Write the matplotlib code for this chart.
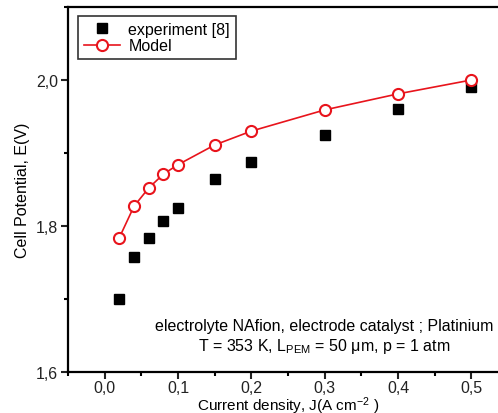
import numpy as np
import matplotlib
matplotlib.use("Agg")
import matplotlib.pyplot as plt
from matplotlib.ticker import MultipleLocator, FuncFormatter

plt.rcParams['font.family'] = ['Liberation Sans', 'DejaVu Sans']
plt.rcParams['mathtext.fontset'] = 'custom'
plt.rcParams['mathtext.rm'] = 'Liberation Sans'
plt.rcParams['mathtext.it'] = 'Liberation Sans:italic'

# data
j_exp = [0.02, 0.04, 0.06, 0.08, 0.10, 0.15, 0.20, 0.30, 0.40, 0.50]
e_exp = [1.700, 1.758, 1.784, 1.807, 1.825, 1.864, 1.888, 1.924, 1.960, 1.990]
j_model = [0.02, 0.04, 0.06, 0.08, 0.10, 0.15, 0.20, 0.30, 0.40, 0.50]
e_model = [1.784, 1.827, 1.852, 1.871, 1.884, 1.911, 1.930, 1.959, 1.981, 2.000]

fig = plt.figure(figsize=(4.98, 4.14), dpi=100)
ax = fig.add_axes([68/498, 1 - 373/414, 440/498, 365/414])

ax.plot(j_exp, e_exp, 's', color='black', markersize=7, label='experiment [8]')
ax.plot(j_model, e_model, '-o', color='#e8141c', lw=1.2, markersize=8,
        markerfacecolor='white', markeredgewidth=1.5, label='Model')

ax.set_xlim(-0.05, 0.55)
ax.set_ylim(1.6, 2.1)
ax.xaxis.set_major_locator(MultipleLocator(0.1))
ax.xaxis.set_minor_locator(MultipleLocator(0.05))
ax.yaxis.set_major_locator(MultipleLocator(0.2))
ax.yaxis.set_minor_locator(MultipleLocator(0.1))
comma = FuncFormatter(lambda v, p: ('%.1f' % v).replace('.', ','))
ax.xaxis.set_major_formatter(comma)
ax.yaxis.set_major_formatter(comma)
ax.tick_params(which='major', direction='out', length=5, width=1.5, labelsize=11.5,
               colors='#222222', pad=2)
ax.tick_params(axis='x', which='major', pad=1)
ax.tick_params(which='minor', direction='out', length=3, width=1.5)
for s in ax.spines.values():
    s.set_linewidth(1.6)

ax.set_xlabel(r'Current density, J(A cm$^{\mathregular{-2}}$ )', fontsize=11, labelpad=-0.5)
ax.set_ylabel('Cell Potential, E(V)', fontsize=11.5, labelpad=4)

ax.text(0.300, 1.6635, 'electrolyte NAfion, electrode catalyst ; Platinium',
        ha='center', va='center', fontsize=11.5)
ax.text(0.300, 1.636, r'T = 353 K, L$_{\mathregular{PEM}}$ = 50 $\mathregular{\mu}$m, p = 1 atm',
        ha='center', va='center', fontsize=11.5)

leg = ax.legend(loc='upper left', bbox_to_anchor=(0.023, 0.975), numpoints=1,
                fontsize=11.5, frameon=True, fancybox=False, borderpad=0.35,
                handlelength=2.3, handletextpad=0.5, labelspacing=0.1,
                borderaxespad=0)
leg.get_frame().set_edgecolor('black')
leg.get_frame().set_linewidth(1.2)

fig.savefig('out.png', dpi=100)
